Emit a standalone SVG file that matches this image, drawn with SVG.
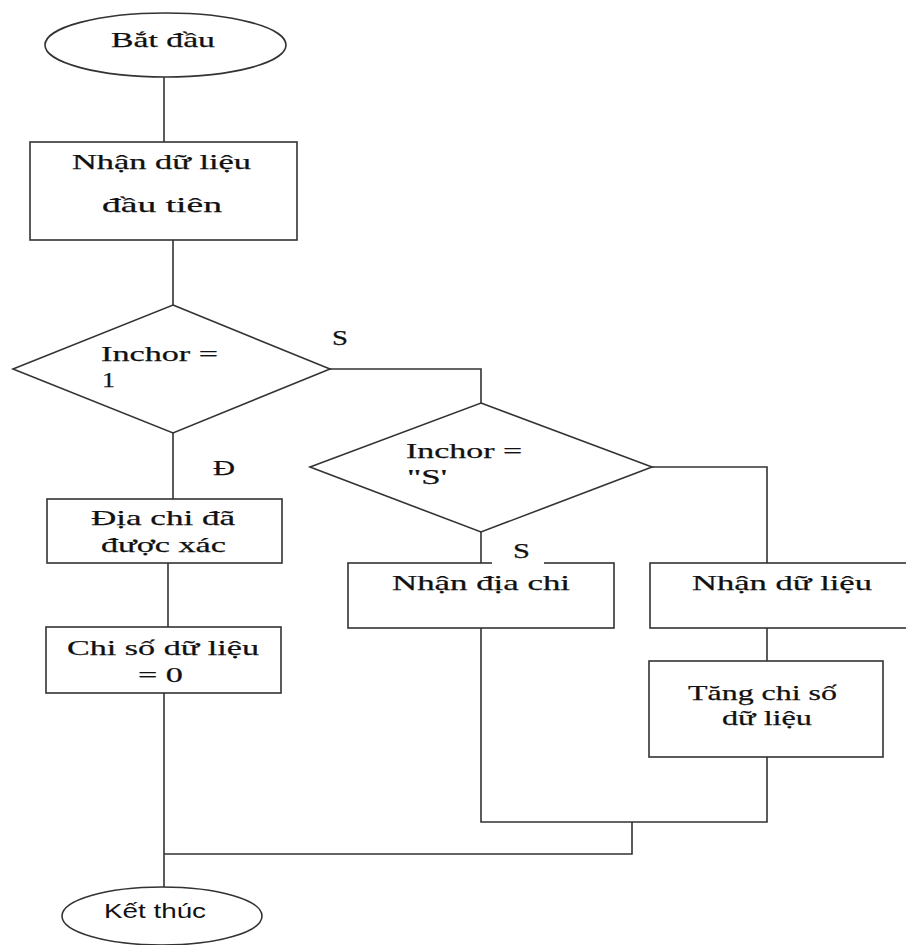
<svg xmlns="http://www.w3.org/2000/svg" width="906" height="945" viewBox="0 0 906 945">
  <style>
    .box{fill:#fff;stroke:#333;stroke-width:1.6}
    .wire{fill:none;stroke:#333;stroke-width:1.6}
    .t{font-family:"Liberation Serif","Times New Roman",serif;font-size:22px;fill:#111;stroke:#111;stroke-width:0.25}
    .ts{font-family:"Liberation Sans",Arial,sans-serif;font-size:20px;fill:#111}
    .lblbg{fill:#fff;stroke:none}
  </style>
  <rect width="906" height="945" fill="#fff"/>

  <!-- connectors -->
  <g id="connectors" class="wire">
    <path d="M164,77 V142"/>
    <path d="M173,240 V305"/>
    <path d="M330,369 H481 V403"/>
    <path d="M173,433 V499"/>
    <path d="M168,563 V627"/>
    <path d="M481,532 V563"/>
    <path d="M652,467 H767 V563"/>
    <path d="M767,628 V661"/>
    <path d="M164,693 V887"/>
    <path d="M481,628 V822 H767 V757"/>
    <path d="M632,822 V854 H164"/>
  </g>

  <!-- nodes -->
  <g id="start">
    <ellipse class="box" cx="165.5" cy="45" rx="120.5" ry="32"/>
    <text class="t" x="111" y="47" textLength="104" lengthAdjust="spacingAndGlyphs">Bắt đầu</text>
  </g>

  <g id="receive-first">
    <rect class="box" x="30" y="142" width="267" height="98"/>
    <text class="t" x="72" y="169" textLength="179" lengthAdjust="spacingAndGlyphs">Nhận dữ liệu</text>
    <text class="t" x="102" y="212" textLength="120" lengthAdjust="spacingAndGlyphs">đầu tiên</text>
  </g>

  <g id="check-inchor-1">
    <polygon class="box" points="173,305 330,369 173,433 13,369"/>
    <text class="t" x="101" y="361" textLength="117" lengthAdjust="spacingAndGlyphs">Inchor =</text>
    <text class="t" x="102" y="387" textLength="13" lengthAdjust="spacingAndGlyphs">1</text>
  </g>

  <g id="check-inchor-s">
    <polygon class="box" points="481,403 652,467 481,532 310,467"/>
    <text class="t" x="406" y="458" textLength="116" lengthAdjust="spacingAndGlyphs">Inchor =</text>
    <text class="t" x="407" y="484" textLength="40" lengthAdjust="spacingAndGlyphs">"S'</text>
  </g>

  <g id="address-known">
    <rect class="box" x="47" y="499" width="235" height="64"/>
    <text class="t" x="91" y="525" textLength="144" lengthAdjust="spacingAndGlyphs">Địa chi đã</text>
    <text class="t" x="101" y="552" textLength="125" lengthAdjust="spacingAndGlyphs">được xác</text>
  </g>

  <g id="reset-index">
    <rect class="box" x="46" y="627" width="235" height="66"/>
    <text class="t" x="67" y="655" textLength="192" lengthAdjust="spacingAndGlyphs">Chi số dữ liệu</text>
    <text class="t" x="138" y="682" textLength="45" lengthAdjust="spacingAndGlyphs">= 0</text>
  </g>

  <g id="receive-address">
    <rect class="box" x="348" y="563" width="266" height="65"/>
    <text class="t" x="392" y="590" textLength="178" lengthAdjust="spacingAndGlyphs">Nhận địa chi</text>
  </g>

  <g id="receive-data">
    <rect class="box" x="650" y="563" width="264" height="65"/>
    <text class="t" x="692" y="590" textLength="180" lengthAdjust="spacingAndGlyphs">Nhận dữ liệu</text>
  </g>

  <g id="increment-index">
    <rect class="box" x="649" y="661" width="234" height="96"/>
    <text class="t" x="688" y="700" textLength="149" lengthAdjust="spacingAndGlyphs">Tăng chi số</text>
    <text class="t" x="722" y="725" textLength="90" lengthAdjust="spacingAndGlyphs">dữ liệu</text>
  </g>

  <g id="end">
    <ellipse class="box" cx="162" cy="916" rx="100" ry="29"/>
    <text class="ts" x="104" y="918" textLength="102" lengthAdjust="spacingAndGlyphs">Kết thúc</text>
  </g>

  <!-- branch labels -->
  <g id="labels">
    <text class="t" x="332" y="345" textLength="16" lengthAdjust="spacingAndGlyphs">S</text>
    <text class="t" x="213" y="475" textLength="22" lengthAdjust="spacingAndGlyphs">Đ</text>
    <rect class="lblbg" x="492" y="540" width="52" height="24"/>
    <text class="t" x="513" y="558" textLength="17" lengthAdjust="spacingAndGlyphs">S</text>
  </g>
</svg>
